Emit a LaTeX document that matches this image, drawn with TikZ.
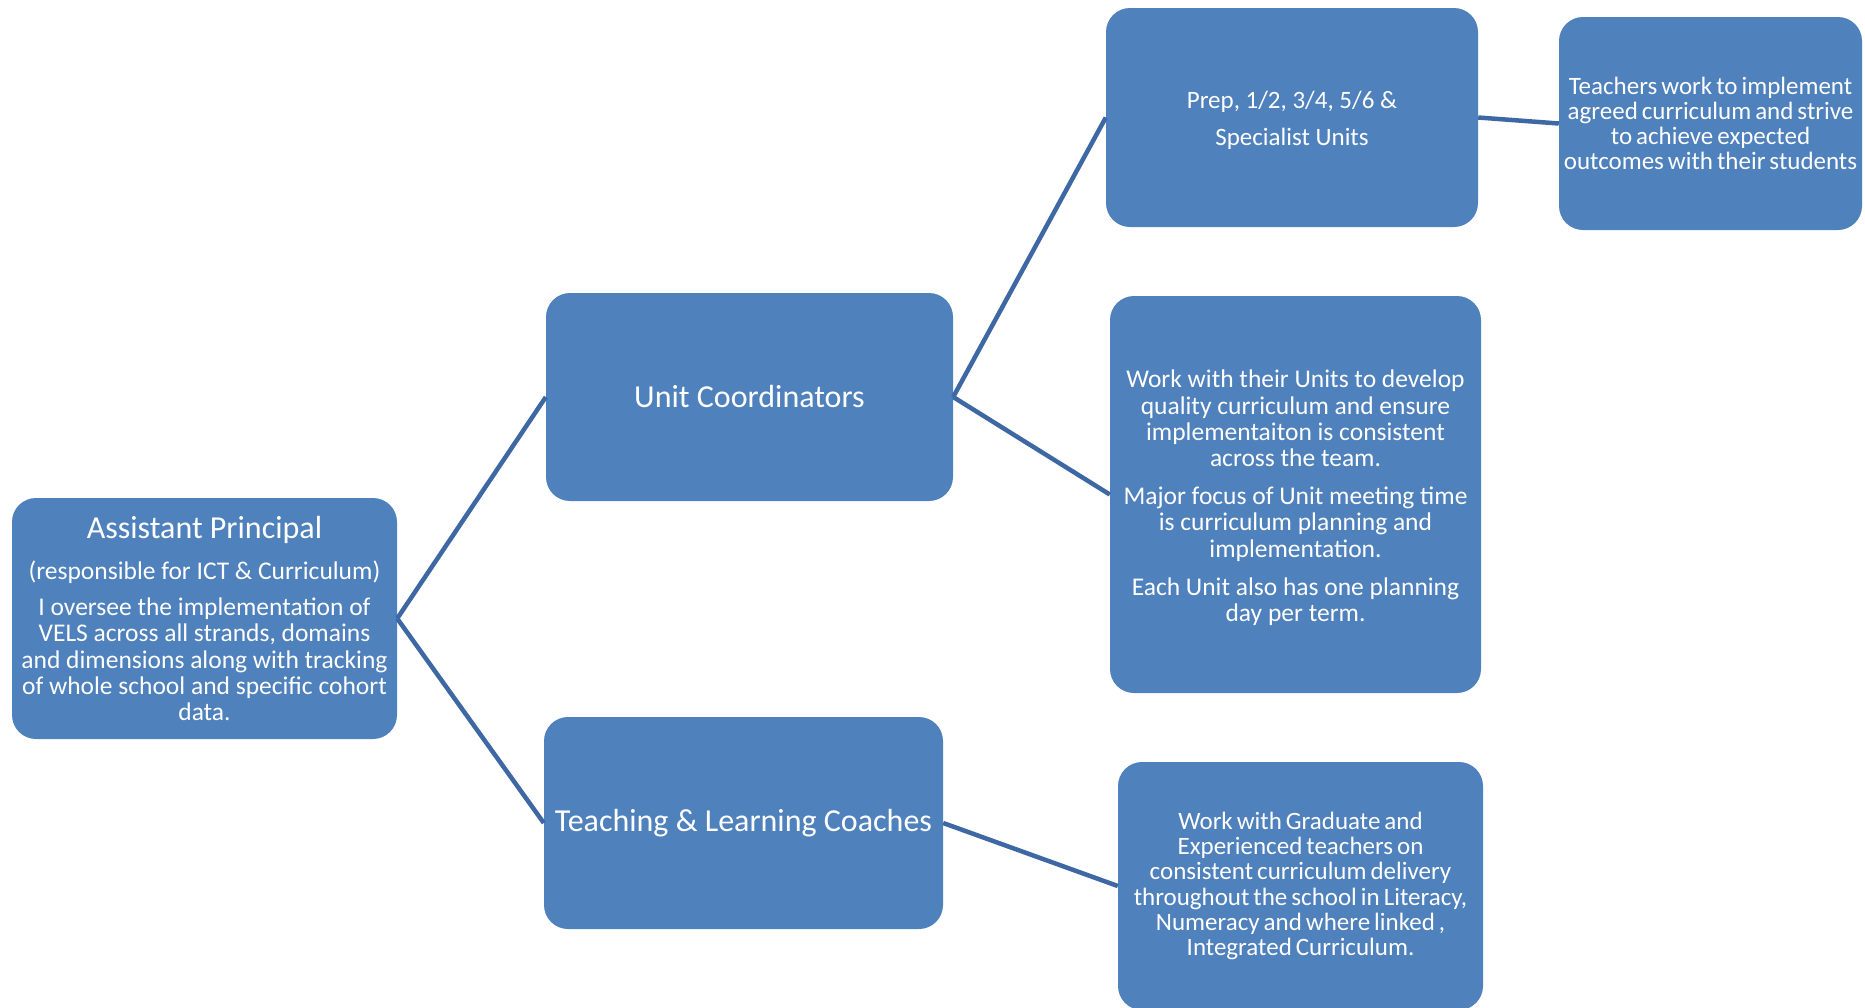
\documentclass[tikz,border=0pt]{standalone}
\usepackage{fontspec}
\setmainfont{Carlito}
\definecolor{boxblue}{HTML}{4F81BD}
\definecolor{linkblue}{RGB}{62,104,163}
\newcommand{\tightwords}{\spaceskip=0.16em plus 0.05em\relax}
\begin{document}
\begin{tikzpicture}[x=1pt,y=-1pt,
  box/.style={rectangle, rounded corners=24pt, fill=boxblue, text=white, align=center, inner sep=0pt},
  body/.style={font=\fontsize{25.5}{26.2}\selectfont},
  tight/.style={font=\fontsize{25}{25.2}\selectfont\tightwords},
  title/.style={font=\fontsize{32}{38}\selectfont},
  link/.style={draw=linkblue, line width=4.5pt}]
\useasboundingbox (0,0) rectangle (1865,1007);

\node[box, body, minimum width=385pt, minimum height=241pt] (ap) at (204.5,618.5)
  {{\fontsize{32}{38}\selectfont Assistant Principal}\\[14.4pt]
   (responsible for ICT \& Curriculum)\\[10.4pt]
   I oversee the implementation of\\
   VELS across all  strands, domains\\
   and dimensions along with tracking\\
   of whole school and specific cohort\\
   data.};

\node[box, title, minimum width=407pt, minimum height=208pt] (uc) at (749.5,397) {Unit Coordinators};
\node[box, title, minimum width=399pt, minimum height=212pt] (tlc) at (743.5,823) {Teaching \& Learning Coaches};

\node[box, font=\fontsize{25}{37}\selectfont, minimum width=372pt, minimum height=219pt] (prep) at (1292,117.5)
  {\rule{0pt}{23.5pt}Prep, 1/2, 3/4, 5/6 \&\\ Specialist Units};

\node[box, tight, minimum width=303pt, minimum height=213pt] (tch) at (1710.5,123.5)
  {Teachers work to implement\\ agreed curriculum and strive\\ to achieve expected\\ outcomes with their students};

\node[box, body, minimum width=371pt, minimum height=397pt] (units) at (1295.5,494.5)
  {\rule{0pt}{24.3pt}Work with their Units to develop\\
   quality curriculum and ensure\\
   implementaiton is consistent\\
   across the team.\\[12pt]
   Major focus of Unit meeting time\\
   is curriculum planning and\\
   implementation.\\[12pt]
   Each Unit also has one planning\\
   day per term.};

\node[box, tight, minimum width=365pt, minimum height=248pt] (grad) at (1300.5,886)
  {Work with Graduate and\\
   Experienced teachers on\\
   consistent curriculum delivery\\
   throughout the school in Literacy,\\
   Numeracy and where linked ,\\
   Integrated Curriculum.};

\draw[link] (ap.east) -- (uc.west);
\draw[link] (ap.east) -- (tlc.west);
\draw[link] (uc.east) -- (prep.west);
\draw[link] (uc.east) -- (units.west);
\draw[link] (tlc.east) -- (grad.west);
\draw[link] (prep.east) -- (tch.west);
\end{tikzpicture}
\end{document}
